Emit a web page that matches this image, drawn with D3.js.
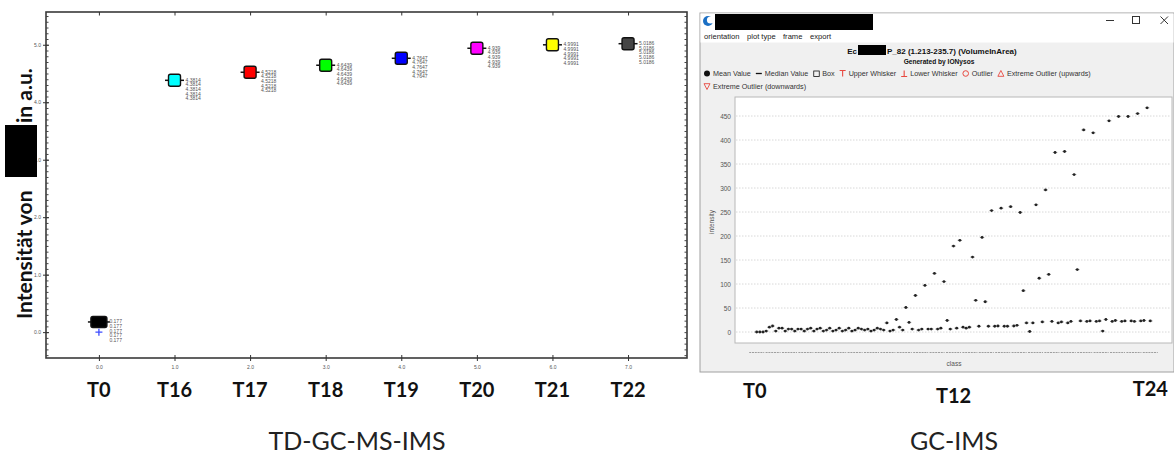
<!DOCTYPE html>
<html>
<head>
<meta charset="utf-8">
<script src="https://cdn.jsdelivr.net/npm/d3@7"></script>
<style>
  html, body { margin: 0; padding: 0; background: #fff; }
  svg { display: block; }
</style>
</head>
<body>
<script>
// TD-GC-MS-IMS panel
var categories = ['T0', 'T16', 'T17', 'T18', 'T19', 'T20', 'T21', 'T22'];
var classPos = [0, 1, 2, 3, 4, 5, 6, 7];
var meanValues = [0.177, 4.3814, 4.5218, 4.6439, 4.7647, 4.939, 4.9991, 5.0186];
var valueLabels = ['0.177', '4.3814', '4.5218', '4.6439', '4.7647', '4.939', '4.9991', '5.0186'];
var boxColors = ['#000000', '#00ffff', '#ff0000', '#00ff00', '#0000ff', '#ff00ff', '#ffff00', '#454545'];
var t0Cross = { pos: 0, value: 0 };
var yTicksLeft = [0, 1, 2, 3, 4, 5];

// GC-IMS panel (points read left to right)
var gcValues = [
  0, 0, 0, 2, 10, 12.5, 2, 8, 8, 2, 6, 6, 2, 6, 6, 2, 6, 8, 2, 6,
  8, 2, 4, 8, 2, 4, 8, 2, 4, 8, 2, 4, 8, 6, 4, 6, 2, 4, 8, 6,
  4, 19, 2, 4, 26, 10, 4, 51, 20, 6, 76, 4, 6, 97, 6, 6, 122, 6, 8, 105,
  24, 6, 179, 8, 191, 10, 8, 10, 156, 66, 12, 197, 63, 12,
  253, 12, 12.5, 258, 12, 12, 261, 12.5, 14, 249, 86, 19, 1, 19, 265, 112,
  21, 296, 120, 22, 374, 19, 21, 376, 19, 22, 328, 130, 23, 421, 22, 23,
  415, 22, 23, 2, 26, 440, 22, 24, 449, 22, 23, 449, 23, 22, 455, 23, 24, 467, 23
];
var gcTicks = [0, 50, 100, 150, 200, 250, 300, 350, 400, 450];
var gcClasses = d3.range(0, 25);
var gcTimeLabels = [{ t: 0, label: 'T0' }, { t: 12, label: 'T12' }, { t: 24, label: 'T24' }];
var legendItems = [
  { sym: 'dot', text: 'Mean Value' },
  { sym: 'dash', text: 'Median Value' },
  { sym: 'box', text: 'Box' },
  { sym: 'upper', text: 'Upper Whisker' },
  { sym: 'lower', text: 'Lower Whisker' },
  { sym: 'circle', text: 'Outlier' },
  { sym: 'up', text: 'Extreme Outlier (upwards)' },
  { sym: 'down', text: 'Extreme Outlier (downwards)', newRow: true }
];

var W = 1174, H = 454;
var svg = d3.select('body').append('svg').attr('width', W).attr('height', H);

function drawLeft() {
  var frame = { left: 46, right: 687, top: 12, bottom: 358 };
  var x = d3.scaleLinear().domain([-0.7, 7.78]).range([frame.left, frame.right]);
  var y = d3.scaleLinear().domain([-0.45, 5.57]).range([frame.bottom, frame.top]);
  var g = svg.append('g');
  var minor = d3.range(-4, 56).map(function(d) { return d / 10; });

  g.append('rect')
      .attr('x', frame.left).attr('y', frame.top)
      .attr('width', frame.right - frame.left).attr('height', frame.bottom - frame.top)
      .attr('fill', '#fff').attr('stroke', '#3a3a3a').attr('stroke-width', 1.6);

  // minor ticks on both vertical sides
  g.append('g').attr('transform', 'translate(' + frame.left + ',0)')
      .call(d3.axisLeft(y).tickValues(minor).tickSize(-2.5).tickFormat(''))
      .call(function(a) { a.select('.domain').remove(); a.selectAll('line').attr('stroke', '#444'); });
  g.append('g').attr('transform', 'translate(' + frame.right + ',0)')
      .call(d3.axisRight(y).tickValues(minor).tickSize(-2.5).tickFormat(''))
      .call(function(a) { a.select('.domain').remove(); a.selectAll('line').attr('stroke', '#444'); });

  g.append('g').attr('transform', 'translate(' + frame.left + ',0)')
      .call(d3.axisLeft(y).tickValues(yTicksLeft).tickFormat(d3.format('.1f')).tickSize(3).tickPadding(2))
      .call(function(a) {
        a.select('.domain').remove();
        a.selectAll('line').attr('x2', 3).attr('x1', -3).attr('stroke', '#333');
        a.selectAll('text').attr('font-size', 5).attr('fill', '#555').attr('font-family', 'Liberation Sans, Arial');
      });

  g.append('g').attr('transform', 'translate(0,' + frame.bottom + ')')
      .call(d3.axisBottom(x).tickValues(classPos).tickFormat(d3.format('.1f')).tickSize(3).tickPadding(4))
      .call(function(a) {
        a.select('.domain').remove();
        a.selectAll('line').attr('y1', -3).attr('y2', 3).attr('stroke', '#333');
        a.selectAll('text').attr('font-size', 5).attr('fill', '#555').attr('font-family', 'Liberation Sans, Arial');
      });
  g.append('g').attr('transform', 'translate(0,' + frame.top + ')')
      .call(d3.axisTop(x).tickValues(classPos).tickSize(-3.5).tickFormat(''))
      .call(function(a) { a.select('.domain').remove(); a.selectAll('line').attr('stroke', '#333'); });

  var data = categories.map(function(c, i) {
    return { cat: c, pos: classPos[i], value: meanValues[i], label: valueLabels[i], color: boxColors[i], index: i };
  });

  var marks = g.selectAll('g.mark').data(data).enter().append('g')
      .attr('class', 'mark')
      .attr('transform', function(d) { return 'translate(' + x(d.pos) + ',' + y(d.value) + ')'; });

  marks.append('line')
      .attr('x1', function(d) { return d.index === 0 ? -11 : -9.5; })
      .attr('x2', function(d) { return d.index === 0 ? 11 : 9.5; })
      .attr('stroke', '#111').attr('stroke-width', 1.5);
  marks.append('rect')
      .attr('x', function(d) { return d.index === 0 ? -8 : -6; })
      .attr('y', function(d) { return d.index === 0 ? -5.5 : -6; })
      .attr('width', function(d) { return d.index === 0 ? 16 : 12; })
      .attr('height', function(d) { return d.index === 0 ? 11 : 12; })
      .attr('rx', 2).attr('ry', 2)
      .attr('fill', function(d) { return d.color; })
      .attr('stroke', '#111').attr('stroke-width', 1.4);

  marks.each(function(d) {
    var m = d3.select(this);
    var tx = d.index === 0 ? 10.5 : 11;
    d3.range(5).forEach(function(k) {
      m.append('text')
          .attr('x', tx).attr('y', 1.5 + k * 4.6)
          .attr('font-size', 5).attr('fill', '#555')
          .attr('font-family', 'Liberation Sans, Arial')
          .text(d.label);
    });
  });

  g.append('path')
      .attr('transform', 'translate(' + x(t0Cross.pos) + ',' + y(t0Cross.value) + ')')
      .attr('d', 'M-3.5,0H3.5M0,-3.5V3.5')
      .attr('stroke', '#3d4cff').attr('stroke-width', 1.3);

  g.selectAll('text.cat').data(data).enter().append('text')
      .attr('class', 'cat')
      .attr('x', function(d) { return x(d.pos); })
      .attr('y', 397)
      .attr('text-anchor', 'middle')
      .attr('font-family', 'Lato, sans-serif').attr('font-weight', 700).attr('font-size', 20)
      .attr('fill', '#111')
      .text(function(d) { return d.cat; });

  // rotated y label with a redacted word
  var yl = g.append('g').attr('transform', 'translate(32,0) rotate(-90)');
  yl.append('text').attr('x', -319).attr('y', 0)
      .attr('font-family', 'Lato, sans-serif').attr('font-weight', 700).attr('font-size', 21)
      .attr('fill', '#111').text('Intensität von');
  g.append('rect').attr('x', 5).attr('y', 125).attr('width', 32).attr('height', 52).attr('fill', '#000');
  yl.append('text').attr('x', -123).attr('y', 0)
      .attr('font-family', 'Lato, sans-serif').attr('font-weight', 700).attr('font-size', 21)
      .attr('fill', '#111').text('in a.u.');

  g.append('text').attr('x', 357).attr('y', 450).attr('text-anchor', 'middle')
      .attr('font-family', 'Lato, sans-serif').attr('font-size', 25).attr('fill', '#222')
      .text('TD-GC-MS-IMS');
}

function drawRight() {
  var win = { left: 700, right: 1174, top: 13, bottom: 372 };
  var plot = { left: 735, right: 1172, top: 97, bottom: 343 };
  var g = svg.append('g');
  var font = 'Liberation Sans, Arial, sans-serif';

  g.append('rect').attr('x', win.left).attr('y', win.top)
      .attr('width', win.right - win.left).attr('height', win.bottom - win.top)
      .attr('fill', '#f0f0f0').attr('stroke', '#a0a0a0');
  g.append('rect').attr('x', win.left + 0.5).attr('y', win.top + 0.5)
      .attr('width', win.right - win.left - 1).attr('height', 29)
      .attr('fill', '#fff');

  // title bar
  g.append('circle').attr('cx', 708).attr('cy', 21).attr('r', 5).attr('fill', '#1b6fc4');
  g.append('circle').attr('cx', 710.5).attr('cy', 20).attr('r', 3.6).attr('fill', '#fff');
  g.append('rect').attr('x', 715).attr('y', 14).attr('width', 158).attr('height', 16).attr('fill', '#000');
  g.append('path').attr('d', 'M1106,20.5H1114').attr('stroke', '#333').attr('stroke-width', 1);
  g.append('rect').attr('x', 1132.5).attr('y', 16.5).attr('width', 7).attr('height', 7)
      .attr('fill', 'none').attr('stroke', '#333');
  g.append('path').attr('d', 'M1160.5,16.5L1168,24M1168,16.5L1160.5,24').attr('stroke', '#333');

  var menu = g.append('text').attr('y', 39).attr('font-family', font).attr('font-size', 7.6).attr('fill', '#222');
  ['orientation', 'plot type', 'frame', 'export'].forEach(function(m, i) {
    menu.append('tspan').attr('x', [704, 747, 783, 810][i]).text(m);
  });

  // chart title with redaction
  g.append('text').attr('x', 857).attr('y', 53.5).attr('text-anchor', 'end')
      .attr('font-family', font).attr('font-weight', 700).attr('font-size', 8).attr('fill', '#111').text('Ec');
  g.append('rect').attr('x', 858).attr('y', 45).attr('width', 28).attr('height', 10).attr('fill', '#000');
  g.append('text').attr('x', 887).attr('y', 53.5)
      .attr('font-family', font).attr('font-weight', 700).attr('font-size', 8).attr('fill', '#111')
      .text('P_82 (1.213-235.7) (VolumeInArea)');
  g.append('text').attr('x', 939).attr('y', 63.5).attr('text-anchor', 'middle')
      .attr('font-family', font).attr('font-weight', 700).attr('font-size', 6.6).attr('fill', '#111')
      .text('Generated by IONysos');

  // legend, flowed left to right
  var lx = 704, ly = 76;
  legendItems.forEach(function(it) {
    if (it.newRow) { lx = 704; ly = 89; }
    var s = g.append('g').attr('transform', 'translate(' + lx + ',' + (ly - 2.5) + ')');
    var red = '#e8483f';
    if (it.sym === 'dot') s.append('circle').attr('cx', 3).attr('r', 3).attr('fill', '#111');
    if (it.sym === 'dash') s.append('path').attr('d', 'M0,0H6').attr('stroke', '#111').attr('stroke-width', 1.3);
    if (it.sym === 'box') s.append('rect').attr('x', 0.5).attr('y', -2.5).attr('width', 5.5).attr('height', 5.5)
        .attr('fill', 'none').attr('stroke', '#111').attr('stroke-width', 0.8);
    if (it.sym === 'upper') s.append('path').attr('d', 'M0,-3H6M3,-3V3').attr('stroke', red).attr('stroke-width', 1.1);
    if (it.sym === 'lower') s.append('path').attr('d', 'M0,3H6M3,-3V3').attr('stroke', red).attr('stroke-width', 1.1);
    if (it.sym === 'circle') s.append('circle').attr('cx', 3).attr('r', 2.8).attr('fill', 'none').attr('stroke', red).attr('stroke-width', 1);
    if (it.sym === 'up') s.append('path').attr('d', 'M3,-3L6,2.8H0Z').attr('fill', 'none').attr('stroke', red).attr('stroke-width', 0.9);
    if (it.sym === 'down') s.append('path').attr('d', 'M0,-2.8H6L3,3Z').attr('fill', 'none').attr('stroke', red).attr('stroke-width', 0.9);
    var t = g.append('text').attr('x', lx + 9).attr('y', ly)
        .attr('font-family', font).attr('font-size', 7.2).attr('fill', '#333').text(it.text);
    lx += 9 + t.node().getComputedTextLength() + 5;
  });

  var x = d3.scaleLinear().domain([0, gcValues.length - 1]).range([756.7, 1150.3]);
  var tx = d3.scaleLinear().domain([0, 24]).range([756.7, 1150.3]);
  var y = d3.scaleLinear().domain([0, 450]).range([332, 116]);

  g.append('rect').attr('x', plot.left).attr('y', plot.top)
      .attr('width', plot.right - plot.left).attr('height', plot.bottom - plot.top)
      .attr('fill', '#fff').attr('stroke', '#b8b8b8');

  g.append('g').attr('transform', 'translate(' + plot.left + ',0)')
      .call(d3.axisLeft(y).tickValues(gcTicks).tickSize(0).tickPadding(4))
      .call(function(a) {
        a.select('.domain').remove();
        a.selectAll('text').attr('font-size', 6.5).attr('fill', '#555').attr('font-family', font);
      });
  g.append('g').selectAll('line').data(gcTicks).enter().append('line')
      .attr('x1', plot.left + 1).attr('x2', plot.right - 1)
      .attr('y1', function(d) { return y(d); }).attr('y2', function(d) { return y(d); })
      .attr('stroke', '#d8d8d8').attr('stroke-dasharray', '1.5,1.5');

  g.append('text').attr('transform', 'translate(714,222) rotate(-90)')
      .attr('text-anchor', 'middle').attr('font-family', font).attr('font-size', 6.5).attr('fill', '#555')
      .text('intensity');

  var pts = g.append('g').selectAll('g').data(gcValues).enter().append('g')
      .attr('transform', function(d, i) { return 'translate(' + x(i) + ',' + y(d) + ')'; });
  pts.append('line').attr('x1', -2.2).attr('x2', 2.2).attr('stroke', '#666').attr('stroke-width', 0.7);
  pts.append('circle').attr('r', 1.4).attr('fill', '#222');

  // class axis: dashed tick runs
  g.append('g').selectAll('line').data(gcClasses).enter().append('line')
      .attr('x1', function(d) { return tx(d) - 7.5; }).attr('x2', function(d) { return tx(d) + 7.5; })
      .attr('y1', 352.5).attr('y2', 352.5)
      .attr('stroke', '#8a8a8a').attr('stroke-width', 0.8).attr('stroke-dasharray', '2,0.8');
  g.append('text').attr('x', 954).attr('y', 366).attr('text-anchor', 'middle')
      .attr('font-family', font).attr('font-size', 6.5).attr('fill', '#555').text('class');

  g.selectAll('text.tl').data(gcTimeLabels).enter().append('text')
      .attr('class', 'tl')
      .attr('x', function(d) { return tx(d.t) - (d.t === 0 ? 2 : 0); })
      .attr('y', function(d) { return d.t === 12 ? 403 : (d.t === 0 ? 398 : 396); })
      .attr('text-anchor', 'middle')
      .attr('font-family', 'Lato, sans-serif').attr('font-weight', 700).attr('font-size', 20)
      .attr('fill', '#111')
      .text(function(d) { return d.label; });

  g.append('text').attr('x', 954).attr('y', 450).attr('text-anchor', 'middle')
      .attr('font-family', 'Lato, sans-serif').attr('font-size', 25).attr('fill', '#222')
      .text('GC-IMS');
}

drawLeft();
drawRight();
</script>
</body>
</html>
